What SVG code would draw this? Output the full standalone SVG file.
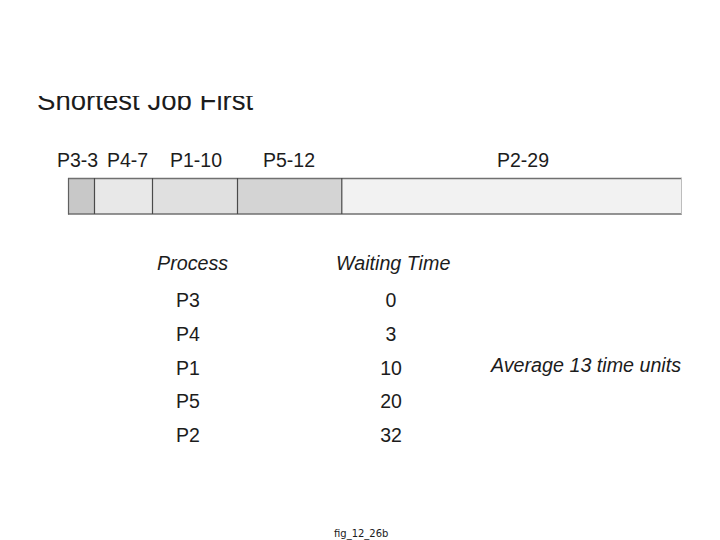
<svg xmlns="http://www.w3.org/2000/svg" width="720" height="540" viewBox="0 0 720 540">
<defs>
<clipPath id="titleClip"><rect x="0" y="96" width="720" height="30"/></clipPath>
</defs>
<style>
text{font-family:"Liberation Sans",Arial,sans-serif;fill:#1c1c1c}
.lbl{font-size:19.5px}
.it{font-size:19.7px;font-style:italic}
.c{text-anchor:middle}
.seg{stroke:none}
.div{stroke:#4a4a4a;stroke-width:1.2}
</style>
<rect width="720" height="540" fill="#ffffff"/>
<g id="title" clip-path="url(#titleClip)">
<text x="37" y="110" style="font-size:27.6px">Shortest Job First</text>
</g>
<g id="gantt-labels" class="lbl">
<text x="57" y="167" class="lbl">P3-3</text>
<text x="107" y="167" class="lbl">P4-7</text>
<text x="170" y="167" class="lbl">P1-10</text>
<text x="263" y="167" class="lbl">P5-12</text>
<text x="497" y="167" class="lbl">P2-29</text>
</g>
<g id="gantt-bar">
<rect class="seg" x="68" y="178" width="26.5" height="36" fill="#c8c8c8"/>
<rect class="seg" x="94.5" y="178" width="58" height="36" fill="#e8e8e8"/>
<rect class="seg" x="152.5" y="178" width="85" height="36" fill="#e0e0e0"/>
<rect class="seg" x="237.5" y="178" width="104.5" height="36" fill="#d4d4d4"/>
<rect class="seg" x="342" y="178" width="340" height="36" fill="#f2f2f2"/>
<line x1="68" y1="178.5" x2="682" y2="178.5" stroke="#707070" stroke-width="1.3"/>
<line x1="68" y1="214" x2="682" y2="214" stroke="#707070" stroke-width="1.5"/>
<line x1="68.5" y1="178" x2="68.5" y2="214.5" stroke="#606060" stroke-width="1.2"/>
<line x1="681.5" y1="178" x2="681.5" y2="214.5" stroke="#bdbdbd" stroke-width="1"/>
<line class="div" x1="94.5" y1="178" x2="94.5" y2="214"/>
<line class="div" x1="152.5" y1="178" x2="152.5" y2="214"/>
<line class="div" x1="237.5" y1="178" x2="237.5" y2="214"/>
<line class="div" x1="341.8" y1="178" x2="341.8" y2="214"/>
</g>
<g id="table">
<text x="157" y="270" class="it">Process</text>
<text x="336" y="270" class="it">Waiting Time</text>
<text x="176" y="307" class="lbl">P3</text>
<text x="176" y="341" class="lbl">P4</text>
<text x="176" y="375" class="lbl">P1</text>
<text x="176" y="408" class="lbl">P5</text>
<text x="176" y="442" class="lbl">P2</text>
<text x="391" y="307" class="lbl c">0</text>
<text x="391" y="341" class="lbl c">3</text>
<text x="391" y="375" class="lbl c">10</text>
<text x="391" y="408" class="lbl c">20</text>
<text x="391" y="442" class="lbl c">32</text>
</g>
<g id="average">
<text x="491" y="372" class="it">Average 13 time units</text>
</g>
<g id="caption">
<text x="334" y="537" style="font-size:10px;font-family:'DejaVu Sans',sans-serif">fig_12_26b</text>
</g>
</svg>
